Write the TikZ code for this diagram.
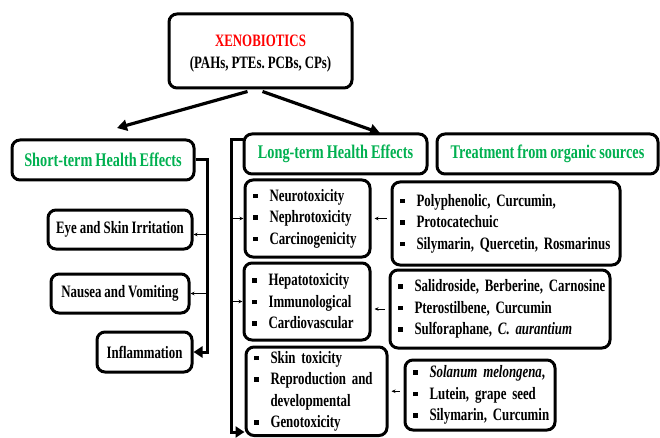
\documentclass[tikz,border=0pt]{standalone}
\usepackage{fontspec}
\setmainfont{Liberation Serif}[FakeStretch=0.74]
\usetikzlibrary{arrows.meta,calc}
\definecolor{hgreen}{RGB}{0,176,80}
\newcommand\bitem{\makebox[16.5pt][l]{\rule[3pt]{4.5pt}{4.5pt}}}
\newcommand\li[1]{\mbox{\bitem #1}}
\newcommand\tightsp{\spaceskip=3pt plus 1pt\xspaceskip=3pt plus 1pt\relax}
\begin{document}
\begin{tikzpicture}[x=1pt,y=-1pt,
  box/.style={draw, line width=3pt, rounded corners=8pt, inner sep=0pt,
    font=\fontsize{17.4}{21.5}\selectfont\bfseries\tightsp},
  headbox/.style={box, text=hgreen, font=\fontsize{19.3}{22}\selectfont\bfseries\tightsp},
  listbox/.style={box, align=left, inner xsep=8pt},
  bigarrow/.style={line width=3.2pt, -{Triangle[length=10pt,width=11pt]}},
  bracket/.style={line width=3pt},
  thinarrow/.style={line width=0.7pt, -{Stealth[length=4pt,width=3.5pt]}}]
\useasboundingbox (0,0) rectangle (660,438);

% top
\node[box, minimum width=183pt, minimum height=74pt, align=center,
  font=\fontsize{17.4}{22}\selectfont\bfseries\tightsp] (xeno) at (260.5,51)
  {\rule{0pt}{17.5pt}\textcolor{red}{XENOBIOTICS}\\(PAHs, PTEs. PCBs, CPs)};

% headers
\node[headbox, minimum width=182pt, minimum height=40pt] (short) at (103,160) {Short-term Health Effects};
\node[headbox, minimum width=183pt, minimum height=40pt] (long) at (335.5,154) {Long-term Health Effects};
\node[headbox, minimum width=221pt, minimum height=40pt] (treat) at (547.5,154) {Treatment from organic sources};

% short-term effects
\node[box, minimum width=144pt, minimum height=39pt] (eye) at (120,229.5) {Eye and Skin Irritation};
\node[box, minimum width=138pt, minimum height=39pt] (nausea) at (120,293.5) {Nausea and Vomiting};
\node[box, minimum width=95pt, minimum height=40pt] (inflam) at (144.5,352) {Inflammation};

% long-term effects
\node[listbox, text width=109pt, minimum height=77pt] (L1) at (307.5,218.5)
  {\li{Neurotoxicity}\\\li{Nephrotoxicity}\\\li{Carcinogenicity}};
\node[listbox, text width=110pt, minimum height=77pt] (L2) at (307,301.5)
  {\li{Hepatotoxicity}\\\li{Immunological}\\\li{Cardiovascular}};
\node[listbox, text width=125pt, minimum height=88.5pt] (L3) at (316.5,391.25)
  {\li{Skin toxicity}\\\li{Reproduction and}\\\mbox{\hspace*{16.5pt}developmental}\\\li{Genotoxicity}};

% treatments
\node[listbox, text width=212pt, minimum height=83pt] (R1) at (506,223.5)
  {\li{Polyphenolic, Curcumin,}\\\li{Protocatechuic}\\\li{Silymarin, Quercetin, Rosmarinus}};
\node[listbox, text width=204pt, minimum height=78pt] (R2) at (500,309)
  {\li{Salidroside, Berberine, Carnosine}\\\li{Pterostilbene, Curcumin}\\\li{Sulforaphane, \textit{C. aurantium}}};
\node[listbox, text width=134pt, minimum height=70pt] (R3) at (480,395)
  {\li{\textit{Solanum melongena},}\\\li{Lutein, grape seed}\\\li{Silymarin, Curcumin}};

% main arrows
\coordinate (sa) at (117,128);
\coordinate (la) at (380,133);
\draw[bigarrow] ($(xeno.south)+(-13,2)$) -- (sa);
\draw[bigarrow] ($(xeno.south)+(2,2)$) -- (la);

% short-term bracket
\coordinate (sb) at (207,158);
\coordinate (eyein) at ($(eye.east)+(0,5)$);
\draw[bracket, -{Triangle[length=9pt,width=11pt]}] (short.east) -- (short.east -| sb) -- (sb |- inflam.east) -- (inflam.east);
\draw[thinarrow] (eyein -| sb) -- (eyein);
\draw[thinarrow] (nausea.east -| sb) -- (nausea.east);

% long-term bracket
\coordinate (lt) at (231,140);
\coordinate (lb) at (231,432);
\draw[bracket, -{Triangle[length=9pt,width=11pt]}] (long.west |- lt) -- (lt) -- (lb) -- (lb -| L3.west);
\draw[thinarrow] (L1.west -| lt) -- (L1.west);
\draw[thinarrow] (L2.west -| lt) -- (L2.west);

% treatment arrows
\draw[thinarrow, shorten <=4pt, shorten >=3pt] (R1.west |- L1.east) -- (L1.east);
\draw[thinarrow, shorten <=4pt, shorten >=3pt] (R2.west) -- (R2.west -| L2.east);
\draw[thinarrow, shorten <=4pt, shorten >=3pt] (R3.west |- L3.east) -- (L3.east);
\end{tikzpicture}
\end{document}
